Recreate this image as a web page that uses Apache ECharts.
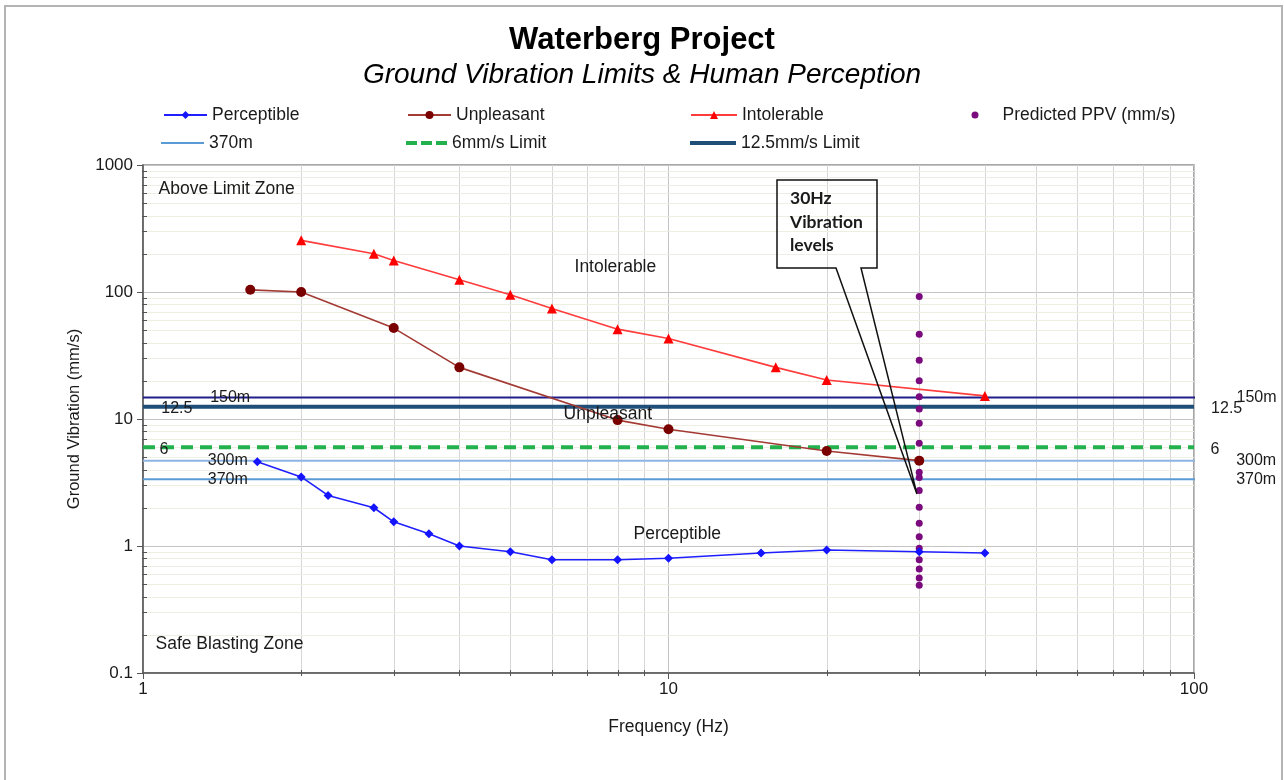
<!DOCTYPE html>
<html>
<head>
<meta charset="utf-8">
<title>Waterberg Project</title>
<script src="https://cdn.jsdelivr.net/npm/echarts@6/dist/echarts.min.js"></script>
<style>
  html, body { margin: 0; padding: 0; background: #ffffff; }
  #chart { width: 1284px; height: 780px; }
</style>
</head>
<body>
<div id="chart"></div>
<script>
// ---- Human perception curves (frequency in Hz, PPV in mm/s) ----
const percFreq  = [1.65, 2, 2.25, 2.75, 3, 3.5, 4, 5, 6, 8, 10, 15, 20, 30, 40];
const percPPV   = [4.6, 3.5, 2.5, 2.0, 1.55, 1.25, 1.0, 0.9, 0.78, 0.78, 0.8, 0.88, 0.93, 0.9, 0.88];
const unplFreq  = [1.6, 2, 3, 4, 8, 10, 20, 30];
const unplPPV   = [104, 100, 52, 25.5, 9.8, 8.3, 5.6, 4.7];
const intolFreq = [2, 2.75, 3, 4, 5, 6, 8, 10, 16, 20, 40];
const intolPPV  = [255, 200, 177, 125, 95, 74, 51, 43, 25.5, 20.3, 15.2];

// ---- Predicted PPV at 30 Hz ----
const ppvFreq   = 30;
const ppvValues = [92, 46.5, 29, 20, 15, 12, 9.25, 6.45, 4.7, 3.8, 3.47, 2.73, 2.02, 1.51, 1.18, 0.96, 0.78, 0.66, 0.56, 0.49];

// ---- Predicted levels at distance, and regulatory limits ----
const distNames = ['150m', '300m', '370m'];
const distPPV   = [14.8, 4.7, 3.35];
const limitNames = ['12.5', '6'];
const limitPPV   = [12.5, 6];

// ---- Axis ranges and ticks ----
const X_MIN = 1, X_MAX = 100, X_LINE_END = 120;
const Y_MIN = 0.1, Y_MAX = 1000;
const xMinorTicks = [2, 3, 4, 5, 6, 7, 8, 9, 20, 30, 40, 50, 60, 70, 80, 90];
const yMinorTicks = [0.2, 0.3, 0.4, 0.5, 0.6, 0.7, 0.8, 0.9,
                     2, 3, 4, 5, 6, 7, 8, 9,
                     20, 30, 40, 50, 60, 70, 80, 90,
                     200, 300, 400, 500, 600, 700, 800, 900];

// ---- Where the line names sit (frequency of label centre) ----
const distLabelLeft   = [1.465, 1.45, 1.45];
const distLabelRight  = [131.5, 131.3, 131.3];
const limitLabelLeft  = [1.16, 1.096];
const limitLabelRight = [115.4, 109.6];

// ---- Zone / curve annotations [frequency, PPV, text] ----
const annotations = [
  [1.068, 647, 'Above Limit Zone'],
  [1.054, 0.169, 'Safe Blasting Zone'],
  [6.61, 157, 'Intolerable'],
  [6.30, 10.9, 'Unpleasant'],
  [8.56, 1.24, 'Perceptible']
];

// ---- Callout pointing at the 30 Hz column ----
const calloutText = '30Hz\nVibration\nlevels';
const calloutTip  = [29.7, 2.57];

const FONT = '"Liberation Sans", Arial, Helvetica, sans-serif';
const TXT  = '#1a1a1a';

const pairs = (xs, ys) => xs.map((x, i) => [x, ys[i]]);

const chart = echarts.init(document.getElementById('chart'), null, { renderer: 'canvas' });

// Minor grid lines with their small tick marks
function verticalMinor(params, api) {
  const v = api.value(0);
  const top = api.coord([v, Y_MAX]);
  const bot = api.coord([v, Y_MIN]);
  const x = Math.round(top[0]) + 0.5;
  return {
    type: 'group',
    children: [
      { type: 'line', shape: { x1: x, y1: top[1], x2: x, y2: bot[1] },
        style: { stroke: '#d6d6d6', lineWidth: 1 } },
      { type: 'line', shape: { x1: x, y1: bot[1] - 3, x2: x, y2: bot[1] + 3 },
        style: { stroke: '#555555', lineWidth: 1 } }
    ]
  };
}
function horizontalMinor(params, api) {
  const v = api.value(1);
  const l = api.coord([X_MIN, v]);
  const r = api.coord([X_MAX, v]);
  const y = Math.round(l[1]) + 0.5;
  return {
    type: 'group',
    children: [
      { type: 'line', shape: { x1: l[0], y1: y, x2: r[0], y2: y },
        style: { stroke: '#eeeee2', lineWidth: 1 } },
      { type: 'line', shape: { x1: l[0] - 1, y1: y, x2: l[0] + 4, y2: y },
        style: { stroke: '#555555', lineWidth: 1 } }
    ]
  };
}

const legendText = { fontFamily: FONT, fontSize: 17.5, color: TXT, lineHeight: 20 };
const legendBase = { padding: 0, itemGap: 0, selectedMode: false, textStyle: legendText };
const DASH_ICON = 'path://M0 0H11V4H0Z M15 0H26V4H15Z M30 0H41V4H30Z';
const legends = [
  { data: ['Perceptible'], left: 163, top: 105, itemWidth: 43, itemHeight: 10 },
  { data: ['Unpleasant'], left: 407, top: 105, itemWidth: 43, itemHeight: 10 },
  { data: ['Intolerable'], left: 690, top: 105, itemWidth: 46, itemHeight: 10 },
  { data: [{ name: 'Predicted PPV (mm/s)', icon: 'circle' }], left: 971.5, top: 105,
    itemWidth: 7, itemHeight: 7,
    textStyle: Object.assign({}, legendText, { padding: [0, 0, 0, 19] }) },
  { data: [{ name: '370m', icon: 'rect' }], left: 161, top: 133, itemWidth: 43, itemHeight: 2 },
  { data: [{ name: '6mm/s Limit', icon: DASH_ICON }], left: 406, top: 133, itemWidth: 41, itemHeight: 4 },
  { data: [{ name: '12.5mm/s Limit', icon: 'rect' }], left: 690, top: 133, itemWidth: 46, itemHeight: 4 }
].map(l => Object.assign({}, legendBase, l));

const lineLabelData = [];
distNames.forEach((n, i) => {
  lineLabelData.push({ value: [distLabelLeft[i], distPPV[i]], name: n });
  lineLabelData.push({ value: [distLabelRight[i], distPPV[i]], name: n });
});
limitNames.forEach((n, i) => {
  lineLabelData.push({ value: [limitLabelLeft[i], limitPPV[i]], name: n, label: { offset: [0, 2] } });
  lineLabelData.push({ value: [limitLabelRight[i], limitPPV[i]], name: n, label: { offset: [0, 2] } });
});

function flatLine(name, y, xEnd, color, width, type, z) {
  return {
    name, type: 'line', data: [[X_MIN, y], [xEnd, y]],
    symbol: 'none', clip: false, silent: true, z,
    itemStyle: { color },
    lineStyle: { color, width, type: type || 'solid' }
  };
}

const option = {
  animation: false,
  backgroundColor: '#ffffff',
  textStyle: { fontFamily: FONT },
  title: [
    { text: 'Waterberg Project', left: 'center', top: 17,
      textStyle: { fontFamily: FONT, fontSize: 31, fontWeight: 'bold', color: '#000', lineHeight: 36 } },
    { text: 'Ground Vibration Limits & Human Perception', left: 'center', top: 54,
      textStyle: { fontFamily: FONT, fontSize: 28, fontStyle: 'italic', fontWeight: 'normal', color: '#000', lineHeight: 32 } }
  ],
  legend: legends,
  grid: {
    left: 143, right: 90, top: 165, bottom: 107,
    show: true, borderColor: '#8c8c8c', borderWidth: 1.5, backgroundColor: 'transparent'
  },
  xAxis: {
    type: 'log', logBase: 10, min: X_MIN, max: X_MAX,
    name: 'Frequency (Hz)', nameLocation: 'middle', nameGap: 45,
    nameTextStyle: { fontFamily: FONT, fontSize: 17.5, color: TXT },
    axisLine: { show: true, lineStyle: { color: '#555555', width: 1.5 } },
    axisTick: { show: true, length: 6, lineStyle: { color: '#555555' } },
    axisLabel: { fontFamily: FONT, fontSize: 17, color: TXT, margin: 8,
                 formatter: v => String(+(+v).toPrecision(6)) },
    splitLine: { show: true, lineStyle: { color: '#c4c4c4', width: 1 } },
    minorTick: { show: false }, minorSplitLine: { show: false }
  },
  yAxis: {
    type: 'log', logBase: 10, min: Y_MIN, max: Y_MAX,
    name: 'Ground Vibration (mm/s)', nameLocation: 'middle', nameGap: 60, nameRotate: 90,
    nameTextStyle: { fontFamily: FONT, fontSize: 16.5, color: TXT },
    axisLine: { show: true, lineStyle: { color: '#555555', width: 1.5 } },
    axisTick: { show: true, length: 6, lineStyle: { color: '#555555' } },
    axisLabel: { fontFamily: FONT, fontSize: 17, color: TXT, margin: 10,
                 formatter: v => String(+(+v).toPrecision(6)) },
    splitLine: { show: true, lineStyle: { color: '#c4c4c4', width: 1 } },
    minorTick: { show: false }, minorSplitLine: { show: false }
  },
  series: [
    { type: 'custom', name: 'xMinorGrid', renderItem: verticalMinor, clip: false, silent: true, z: 1,
      data: xMinorTicks.map(v => [v, 1]), encode: { x: 0, y: 1 } },
    { type: 'custom', name: 'yMinorGrid', renderItem: horizontalMinor, clip: false, silent: true, z: 1,
      data: yMinorTicks.map(v => [1, v]), encode: { x: 0, y: 1 } },

    flatLine('150m', distPPV[0], X_LINE_END, '#1f1f8a', 2, 'solid', 2),
    flatLine('12.5mm/s Limit', limitPPV[0], X_MAX, '#1f4e79', 4, 'solid', 2),
    flatLine('6mm/s Limit', limitPPV[1], X_MAX, '#22b14c', 4, [12, 7], 2),
    flatLine('300m', distPPV[1], X_LINE_END, '#8db4e2', 2, 'solid', 2),
    flatLine('370m', distPPV[2], X_LINE_END, '#5b9bd5', 2, 'solid', 2),

    { name: 'Predicted PPV (mm/s)', type: 'scatter', z: 3, silent: true,
      data: ppvValues.map(v => [ppvFreq, v]),
      symbol: 'circle', symbolSize: 7, itemStyle: { color: '#7a0a7e', opacity: 1 } },

    { name: 'Perceptible', type: 'line', z: 4, silent: true,
      data: pairs(percFreq, percPPV),
      symbol: 'diamond', symbolSize: 9, showSymbol: true,
      itemStyle: { color: '#1414ff' }, lineStyle: { color: '#1f1fff', width: 1.6 } },
    { name: 'Unpleasant', type: 'line', z: 4, silent: true,
      data: pairs(unplFreq, unplPPV),
      symbol: 'circle', symbolSize: 10, showSymbol: true,
      itemStyle: { color: '#7a0000' }, lineStyle: { color: '#a33a34', width: 1.6 } },
    { name: 'Intolerable', type: 'line', z: 4, silent: true,
      data: pairs(intolFreq, intolPPV),
      symbol: 'triangle', symbolSize: 10, showSymbol: true,
      itemStyle: { color: '#ff0000' }, lineStyle: { color: '#ff3b3b', width: 1.6 } },

    { name: 'lineNames', type: 'scatter', z: 5, silent: true, clip: false,
      data: lineLabelData, symbolSize: 1, itemStyle: { color: 'rgba(0,0,0,0)', opacity: 1 },
      label: { show: true, position: 'inside', formatter: p => p.name, opacity: 1,
               fontFamily: FONT, fontSize: 16, color: TXT } },
    { name: 'zoneNotes', type: 'scatter', z: 5, silent: true, clip: false,
      data: annotations.map(a => ({ value: [a[0], a[1]], name: a[2] })),
      symbolSize: 1, itemStyle: { color: 'rgba(0,0,0,0)', opacity: 1 },
      label: { show: true, position: 'right', distance: 0, formatter: p => p.name, opacity: 1,
               fontFamily: FONT, fontSize: 17.5, color: TXT } }
  ]
};

chart.setOption(option);

// Callout box with its pointer, plus the outer frame
const tip = chart.convertToPixel({ gridIndex: 0 }, calloutTip);
const box = { x1: 777, y1: 180, x2: 877, y2: 268, gapL: 836, gapR: 861 };
chart.setOption({
  graphic: [
    { type: 'rect', z: 0, silent: true,
      shape: { x: 5, y: 6, width: 1277, height: 800 },
      style: { fill: 'none', stroke: '#b4b4b4', lineWidth: 2 } },
    { type: 'polygon', z: 100, silent: true,
      shape: { points: [
        [box.gapL, box.y2], [box.x1, box.y2], [box.x1, box.y1], [box.x2, box.y1],
        [box.x2, box.y2], [box.gapR, box.y2], [tip[0], tip[1]]
      ] },
      style: { fill: 'none', stroke: '#111111', lineWidth: 1.5 } },
    { type: 'text', z: 101, silent: true, left: 790, top: 187,
      style: { text: calloutText, font: 'bold 17.5px Lato, "Open Sans", sans-serif',
               lineHeight: 23.5, fill: '#1a1a1a' } }
  ]
});
</script>
</body>
</html>
